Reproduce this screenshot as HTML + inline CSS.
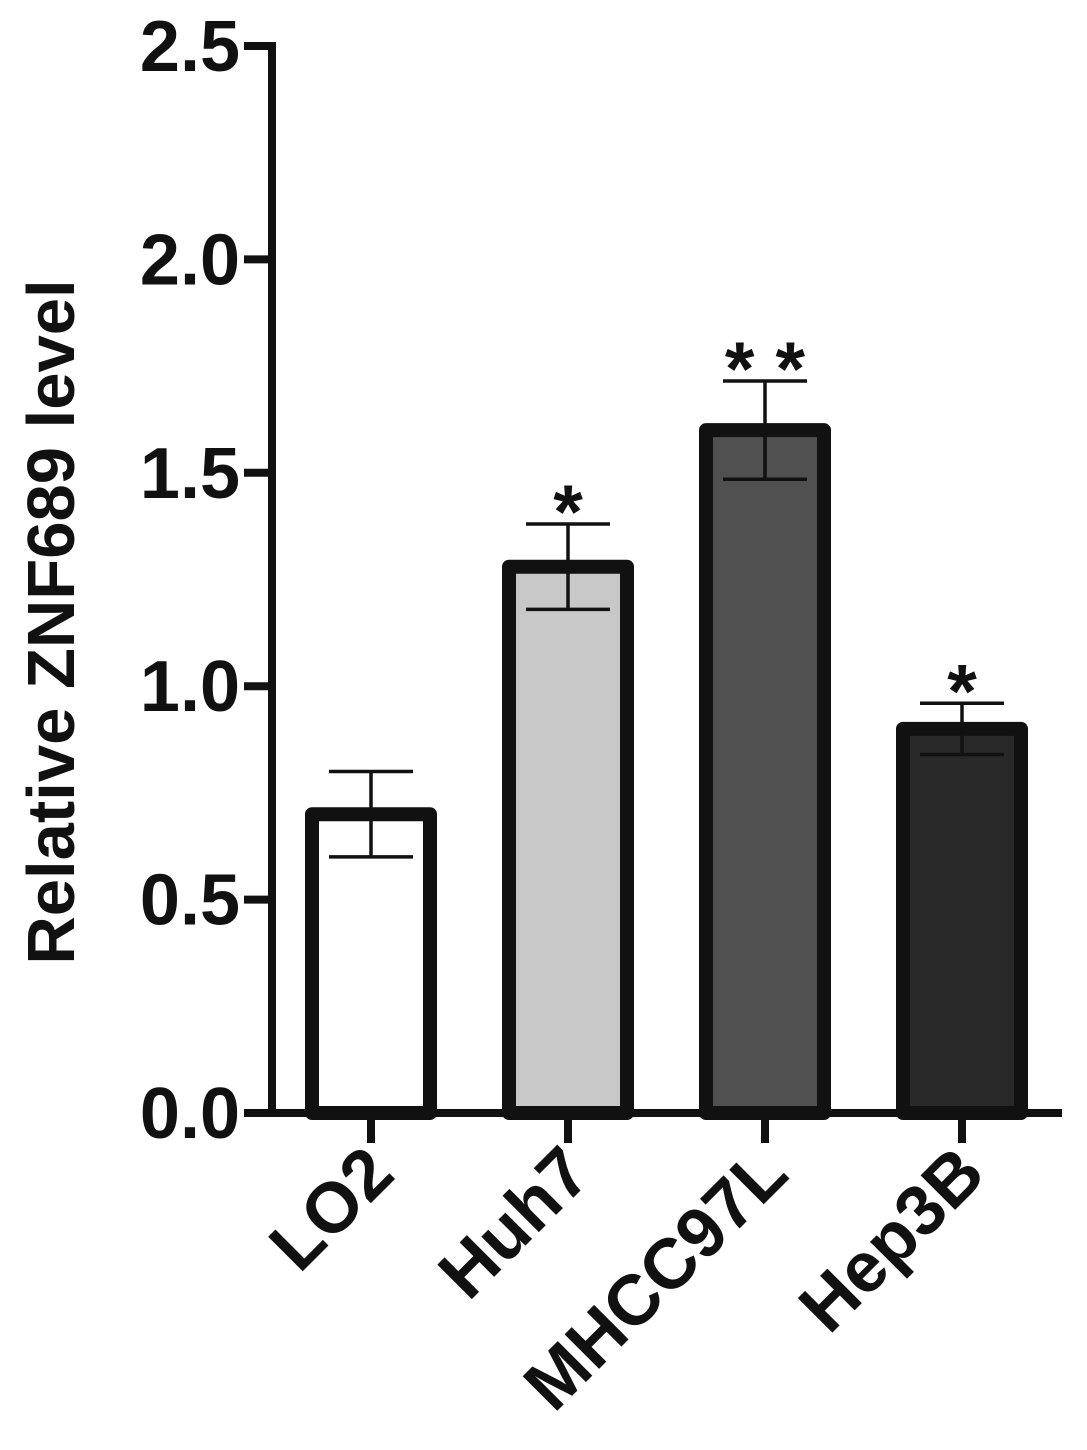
<!DOCTYPE html>
<html><head><meta charset="utf-8"><style>
html,body{margin:0;padding:0;background:#fff}
svg{display:block}
text{font-family:"Liberation Sans",Arial,sans-serif;font-weight:bold;fill:#111}
</style></head><body>
<svg id="chart" width="1087" height="1450" viewBox="0 0 1087 1450" xmlns="http://www.w3.org/2000/svg">
<text transform="translate(74,622) rotate(-90)" text-anchor="middle" font-size="67">Relative ZNF689 level</text>
<g id="axes"></g>
<g id="bars"></g>
</svg>
<script>
const categories = ["LO2","Huh7","MHCC97L","Hep3B"];
const values = [0.70, 1.28, 1.60, 0.90];
const errors = [0.10, 0.10, 0.115, 0.06];
const significance = ["", "*", "* *", "*"];
const fills = ["#ffffff","#c8c8c8","#505050","#282828"];
const yTicks = [0, 0.5, 1.0, 1.5, 2.0, 2.5];
const yTickLabels = ["0.0","0.5","1.0","1.5","2.0","2.5"];

const NS="http://www.w3.org/2000/svg";
const x0=272, y0=1113, yTop=46, yMax=2.5;
const band=197, firstCenter=371, barW=130;
function yScale(v){return y0-(v/yMax)*(y0-yTop);}
function xScale(i){return firstCenter+i*band;}
function mk(tag,attrs,parent){const e=document.createElementNS(NS,tag);for(const k in attrs)e.setAttribute(k,attrs[k]);parent.appendChild(e);return e;}
const axes=document.getElementById('axes'), bars=document.getElementById('bars');

const yAxis=mk('line',{x1:x0,y1:yTop-4,x2:x0,y2:y0+4,stroke:'#111','stroke-width':8},axes);


const xAxis=mk('line',{x1:x0-28,y1:y0,x2:1062,y2:y0,stroke:'#111','stroke-width':8},axes);



yTicks.forEach((t,i)=>{
  const y=yScale(t);
  const tk=mk('line',{x1:x0-28,y1:y,x2:x0,y2:y,stroke:'#111','stroke-width':8},axes);
  
  
  const lb=mk('text',{x:x0-32,y:y+25,'text-anchor':'end','font-size':72},axes);
  lb.textContent=yTickLabels[i];
  
  
});

categories.forEach((c,i)=>{
  const cx=xScale(i), yv=yScale(values[i]);
  const r=mk('rect',{x:cx-barW/2+6,y:yv,width:barW-12,height:y0-yv,fill:fills[i],stroke:'#111','stroke-width':14,'stroke-linejoin':'round'},bars);
  
  
  const yh=yScale(values[i]+errors[i]), yl=yScale(values[i]-errors[i]);
  const g=mk('g',{stroke:'#111','stroke-width':3.5},bars);
  
  
  mk('line',{x1:cx,y1:yh,x2:cx,y2:yl},g);
  mk('line',{x1:cx-42,y1:yh,x2:cx+42,y2:yh},g);
  mk('line',{x1:cx-42,y1:yl,x2:cx+42,y2:yl},g);
  const tk=mk('line',{x1:cx,y1:y0,x2:cx,y2:y0+30,stroke:'#111','stroke-width':8},axes);
  
  
  const lb=mk('text',{transform:`translate(${cx+26},${y0+64}) rotate(-45)`,'text-anchor':'end','font-size':71},axes);
  lb.textContent=c;
  
  
  if(significance[i]){
    const s=mk('text',{x:cx,y:yh+14,'text-anchor':'middle','font-size':76,'font-weight':'normal'},bars);
    s.textContent=significance[i];
    
    
  }
});
</script>
</body></html>
